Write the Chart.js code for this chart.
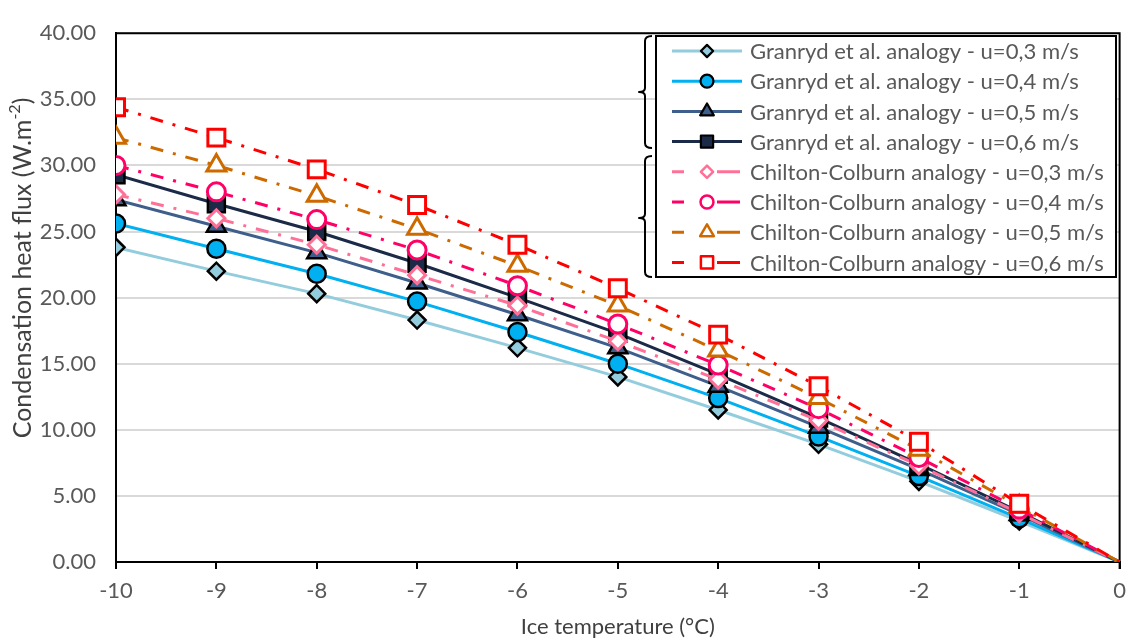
<!DOCTYPE html>
<html><head><meta charset="utf-8">
<script src="https://cdn.jsdelivr.net/npm/chart.js@4/dist/chart.umd.min.js"></script>
<style>html,body{margin:0;padding:0;background:#fff;}#wrap{width:1135px;height:642px;position:relative;}</style>
</head><body><div id="wrap"><canvas id="c" width="1135" height="642"></canvas></div>
<script>
// ---- data ----
const temperatures = [-10, -9, -8, -7, -6, -5, -4, -3, -2, -1, 0];
const granryd03 = [23.8, 22.0, 20.3, 18.3, 16.2, 14.0, 11.5, 8.9, 6.1, 3.1, 0];
const granryd04 = [25.6, 23.7, 21.8, 19.7, 17.4, 15.0, 12.4, 9.5, 6.5, 3.3, 0];
const granryd05 = [27.4, 25.4, 23.4, 21.1, 18.7, 16.2, 13.3, 10.2, 7.0, 3.6, 0];
const granryd06 = [29.3, 27.1, 25.0, 22.6, 20.0, 17.3, 14.2, 10.9, 7.4, 3.8, 0];
const chilton03 = [27.8, 26.0, 24.0, 21.7, 19.4, 16.7, 13.8, 10.7, 7.3, 3.7, 0];
const chilton04 = [30.0, 28.0, 25.9, 23.6, 20.9, 18.0, 14.9, 11.6, 7.9, 4.0, 0];
const chilton05 = [32.1, 30.0, 27.7, 25.2, 22.4, 19.4, 16.0, 12.4, 8.5, 4.2, 0];
const chilton06 = [34.4, 32.1, 29.7, 27.0, 24.0, 20.7, 17.2, 13.3, 9.1, 4.4, 0];
const seriesLabels = [
  'Granryd et al. analogy - u=0,3 m/s',
  'Granryd et al. analogy - u=0,4 m/s',
  'Granryd et al. analogy - u=0,5 m/s',
  'Granryd et al. analogy - u=0,6 m/s',
  'Chilton-Colburn analogy - u=0,3 m/s',
  'Chilton-Colburn analogy - u=0,4 m/s',
  'Chilton-Colburn analogy - u=0,5 m/s',
  'Chilton-Colburn analogy - u=0,6 m/s'
];
const xAxisTitle = 'Ice temperature (°C)';
const yAxisTitleMain = 'Condensation heat flux (W.m';
const yAxisTitleSup = '-2';
const yAxisTitleEnd = ')';
const yMin = 0, yMax = 40, yStep = 5;
const xMin = -10, xMax = 0, xStep = 1;

// ---- styles ----
const FONT = 'Lato, "Open Sans", sans-serif';
const DASH = [13, 10, 3, 10];
const styles = [
  {color:'#93CDDD', style:'rectRot', r:8.5, hollow:false},
  {color:'#00B0F0', style:'circle', r:9, hollow:false},
  {color:'#3E5E8C', style:'triangle', r:11, hollow:false},
  {color:'#1B2A47', style:'rect', r:12, hollow:false},
  {color:'#FF7098', style:'rectRot', r:8.5, hollow:true},
  {color:'#FF0066', style:'circle', r:9, hollow:true},
  {color:'#CC6A00', style:'triangle', r:11, hollow:true},
  {color:'#FF0000', style:'rect', r:12, hollow:true}
];
const seriesData = [granryd03, granryd04, granryd05, granryd06, chilton03, chilton04, chilton05, chilton06];

const datasets = seriesData.map((arr, k) => {
  const s = styles[k];
  return {
    label: seriesLabels[k],
    data: temperatures.map((t, i) => ({x: t, y: arr[i]})),
    borderColor: s.color,
    borderWidth: 3,
    borderDash: s.hollow ? DASH : [],
    borderCapStyle: 'butt',
    tension: 0,
    fill: false,
    pointStyle: s.style,
    pointRadius: temperatures.map((t, i) => i === temperatures.length - 1 ? 0 : s.r),
    pointHoverRadius: 0,
    pointBackgroundColor: s.hollow ? '#FFFFFF' : s.color,
    pointBorderColor: s.hollow ? s.color : '#000000',
    pointBorderWidth: s.hollow ? 3 : 2.5,
    order: 8 - k
  };
});

function drawMarker(ctx, style, x, y, r, fill, stroke, lw) {
  ctx.save();
  ctx.beginPath();
  if (style === 'rectRot') {
    ctx.moveTo(x, y - r); ctx.lineTo(x + r, y); ctx.lineTo(x, y + r); ctx.lineTo(x - r, y); ctx.closePath();
  } else if (style === 'circle') {
    ctx.arc(x, y, r, 0, Math.PI * 2);
  } else if (style === 'triangle') {
    ctx.moveTo(x, y - r);
    ctx.lineTo(x + r * 0.866, y + r * 0.5);
    ctx.lineTo(x - r * 0.866, y + r * 0.5);
    ctx.closePath();
  } else {
    const s = r * Math.SQRT1_2;
    ctx.rect(x - s, y - s, 2 * s, 2 * s);
  }
  ctx.fillStyle = fill; ctx.fill();
  ctx.lineWidth = lw; ctx.strokeStyle = stroke; ctx.setLineDash([]); ctx.stroke();
  ctx.restore();
}

function brace(ctx, x, top, mid, bottom) {
  ctx.beginPath();
  ctx.moveTo(x + 7, top);
  ctx.quadraticCurveTo(x, top, x, top + 5);
  ctx.lineTo(x, mid - 4);
  ctx.quadraticCurveTo(x, mid, x - 6, mid);
  ctx.quadraticCurveTo(x, mid, x, mid + 4);
  ctx.lineTo(x, bottom - 5);
  ctx.quadraticCurveTo(x, bottom, x + 7, bottom);
  ctx.stroke();
}

const framePlugin = {
  id: 'frame',
  beforeDatasetsDraw(chart) {
    const {ctx, chartArea: a} = chart;
    ctx.save();
    ctx.strokeStyle = '#000'; ctx.lineWidth = 2;
    ctx.beginPath();
    ctx.moveTo(a.left, a.top); ctx.lineTo(a.right, a.top); ctx.lineTo(a.right, a.bottom + 7);
    ctx.stroke();
    ctx.restore();
  },
  afterDraw(chart) {
    const {ctx, chartArea: a} = chart;
    ctx.save();
    // axis titles
    ctx.fillStyle = '#404040';
    ctx.font = '22px ' + FONT;
    ctx.textAlign = 'center'; ctx.textBaseline = 'middle';
    ctx.fillText(xAxisTitle, (a.left + a.right) / 2, 627);
    ctx.translate(23, 268);
    ctx.rotate(-Math.PI / 2);
    const f1 = '25px ' + FONT, f2 = '16px ' + FONT;
    ctx.font = f1; const w1 = ctx.measureText(yAxisTitleMain).width; const w3 = ctx.measureText(yAxisTitleEnd).width;
    ctx.font = f2; const w2 = ctx.measureText(yAxisTitleSup).width;
    let sx = -(w1 + w2 + w3) / 2;
    ctx.textAlign = 'left';
    ctx.font = f1; ctx.fillText(yAxisTitleMain, sx, 0); sx += w1;
    ctx.font = f2; ctx.fillText(yAxisTitleSup, sx, -8); sx += w2;
    ctx.font = f1; ctx.fillText(yAxisTitleEnd, sx, 0);
    ctx.restore();

    // legend
    ctx.save();
    const L = 656, T = 36, R = 1116, B = 277;
    ctx.fillStyle = '#fff'; ctx.fillRect(L, T, R - L, B - T);
    ctx.strokeStyle = '#000'; ctx.lineWidth = 2; ctx.strokeRect(L, T, R - L, B - T);
    ctx.lineWidth = 2; ctx.lineJoin = 'round';
    brace(ctx, 645, 36, 92, 148);
    brace(ctx, 645, 156, 218, 277);
    // fit font
    let fs = 20;
    ctx.font = fs + 'px ' + FONT;
    const target = 354;
    const wl = ctx.measureText(seriesLabels[7]).width;
    fs = fs * target / wl;
    ctx.font = fs + 'px ' + FONT;
    ctx.textBaseline = 'middle'; ctx.textAlign = 'left';
    chart.data.datasets.forEach((ds, k) => {
      const s = styles[k];
      const y = 51 + k * 30.2;
      ctx.strokeStyle = s.color; ctx.lineWidth = 3; ctx.lineCap = 'butt';
      ctx.beginPath();
      if (s.hollow) {
        ctx.moveTo(672, y); ctx.lineTo(684, y);
        ctx.moveTo(717, y); ctx.lineTo(740, y);
      } else {
        ctx.moveTo(672, y); ctx.lineTo(742, y);
      }
      ctx.stroke();
      drawMarker(ctx, s.style, 707, y, s.r * 0.72, s.hollow ? '#fff' : s.color, s.hollow ? s.color : '#000', s.hollow ? 2.5 : 2.2);
      ctx.fillStyle = '#595959';
      ctx.fillText(ds.label, 750, y + 1);
    });
    ctx.restore();
  }
};

new Chart(document.getElementById('c'), {
  type: 'line',
  data: {datasets},
  plugins: [framePlugin],
  options: {
    responsive: false,
    animation: false,
    devicePixelRatio: 1,
    layout: {padding: {top: 17, right: 13, left: 0, bottom: 0}},
    plugins: {legend: {display: false}, tooltip: {enabled: false}},
    scales: {
      x: {
        type: 'linear', min: xMin, max: xMax,
        afterFit(s) { s.height = 80; },
        ticks: {stepSize: xStep, color: '#595959', font: {family: FONT, size: 22}, padding: 9},
        grid: {display: true, drawOnChartArea: false, drawTicks: true, tickLength: 7, color: '#000', lineWidth: 2},
        border: {display: true, color: '#000', width: 2}
      },
      y: {
        min: yMin, max: yMax,
        afterFit(s) { s.width = 116; },
        ticks: {stepSize: yStep, color: '#595959', font: {family: FONT, size: 22}, padding: 20,
                callback: v => Number(v).toFixed(2)},
        grid: {color: '#D9D9D9', lineWidth: 2, drawTicks: false},
        border: {display: true, color: '#000', width: 2}
      }
    }
  }
});
</script>
</body></html>
